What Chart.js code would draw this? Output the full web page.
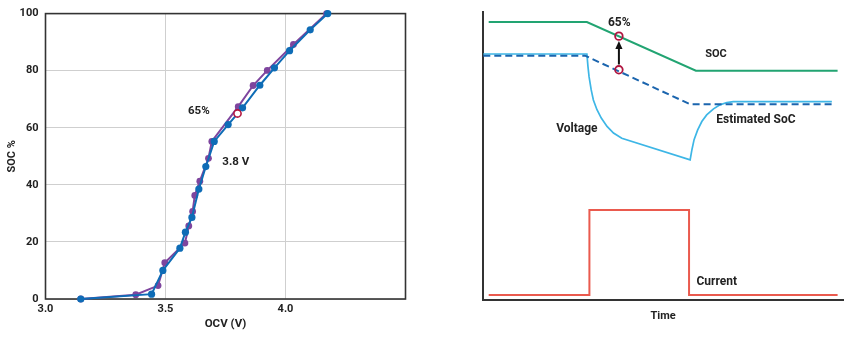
<!DOCTYPE html>
<html>
<head>
<meta charset="utf-8">
<script src="https://cdn.jsdelivr.net/npm/chart.js@4.4.1/dist/chart.umd.min.js"></script>
<style>
  html, body { margin: 0; padding: 0; background: #fff; }
  body { width: 852px; height: 338px; position: relative; overflow: hidden; }
  #ocvWrap { position: absolute; left: 0; top: 0; width: 430px; height: 338px; }
  #timeWrap { position: absolute; left: 430px; top: 0; width: 422px; height: 338px; }
</style>
</head>
<body>
<div id="ocvWrap"><canvas id="ocvChart" width="430" height="338"></canvas></div>
<div id="timeWrap"><canvas id="timeChart" width="422" height="338"></canvas></div>
<script>
// ---- SOC vs OCV curves ----
const ocvTicks = [3.0, 3.5, 4.0];
const socTicks = [0, 20, 40, 60, 80, 100];

const chargeOcv = [3.147, 3.376, 3.469, 3.497, 3.581, 3.597, 3.613, 3.622, 3.643, 3.679, 3.693, 3.803, 3.865, 3.924, 4.033, 4.171];
const chargeSoc = [0, 1.5, 4.7, 12.7, 19.6, 25.6, 30.7, 36.3, 41.3, 49.3, 55.2, 67.4, 74.8, 80.1, 89.2, 100];

const dischargeOcv = [3.147, 3.442, 3.489, 3.56, 3.583, 3.61, 3.639, 3.668, 3.703, 3.761, 3.821, 3.893, 3.954, 4.017, 4.103, 4.176];
const dischargeSoc = [0, 1.7, 10, 17.8, 23.4, 28.6, 38.5, 46.4, 55.2, 61.1, 67, 74.9, 81, 87, 94.3, 100];

const pointOcv = [3.8];
const pointSoc = [65];

// ---- SOC estimation over time (arbitrary units) ----
const socTime = [1.5, 28.8, 59.1, 98.5];
const socLevel = [96.5, 96.5, 79.6, 79.6];

const estTime = [0, 28.3, 57.5, 96.9];
const estLevel = [84.8, 84.8, 67.9, 67.9];

const voltTime = [0, 28.8, 29.1, 29.4, 30.0, 30.6, 31.6, 32.8, 34.4, 36.2, 38.5, 57.5, 58.0, 58.6, 59.6, 60.75, 62.1, 64.0, 65.8, 67.7, 69.5, 96.9];
const voltLevel = [85.4, 85.4, 81.0, 77.5, 72.9, 69.4, 66.0, 63.1, 60.2, 57.9, 56.1, 48.6, 52.1, 55.6, 59.0, 61.9, 64.2, 66.3, 67.7, 68.5, 68.85, 68.85];

const currTime = [1.5, 29.5, 29.5, 57.2, 57.2, 98.5];
const currLevel = [1.6, 1.6, 31.1, 31.1, 1.6, 1.6];

const markTime = [37.7, 37.7];
const markLevel = [91.6, 79.9];

const pairs = (xs, ys) => xs.map((x, i) => ({ x: x, y: ys[i] }));

Chart.defaults.font.family = 'Roboto, "Liberation Sans", sans-serif';
Chart.defaults.font.weight = 'bold';
Chart.defaults.color = '#222';

// Box around the plot area
const framePlugin = {
  id: 'frame',
  beforeDatasetsDraw(chart, args, opts) {
    if (!opts || !opts.color) return;
    const { ctx, chartArea: a } = chart;
    ctx.save();
    ctx.strokeStyle = opts.color;
    ctx.lineWidth = opts.width;
    ctx.strokeRect(a.left, a.top, a.width, a.height);
    ctx.restore();
  }
};

// Free text placed in data coordinates
const notesPlugin = {
  id: 'notes',
  afterDatasetsDraw(chart, args, opts) {
    if (!opts || !opts.items) return;
    const { ctx, scales } = chart;
    ctx.save();
    ctx.fillStyle = opts.color || '#222';
    ctx.textAlign = 'center';
    ctx.textBaseline = 'middle';
    opts.items.forEach(n => {
      ctx.font = 'bold ' + (n.size || 11) + 'px ' + Chart.defaults.font.family;
      ctx.fillText(n.text, scales.x.getPixelForValue(n.x), scales.y.getPixelForValue(n.y));
    });
    ctx.restore();
  }
};

// Arrow between two points of a dataset
const arrowPlugin = {
  id: 'arrow',
  afterDatasetsDraw(chart, args, opts) {
    if (!opts || opts.dataset === undefined) return;
    const pts = chart.getDatasetMeta(opts.dataset).data;
    const from = pts[opts.from], to = pts[opts.to];
    if (!from || !to) return;
    const { ctx } = chart;
    const r = opts.gap;
    const x = to.x;
    const y0 = from.y - r - 1.5;
    const tip = to.y + r + 1;
    const headH = 8, headW = 3.6;
    ctx.save();
    ctx.strokeStyle = opts.color;
    ctx.fillStyle = opts.color;
    ctx.lineWidth = 2;
    ctx.beginPath();
    ctx.moveTo(x, y0);
    ctx.lineTo(x, tip + headH - 1);
    ctx.stroke();
    ctx.beginPath();
    ctx.moveTo(x, tip);
    ctx.lineTo(x - headW, tip + headH);
    ctx.lineTo(x + headW, tip + headH);
    ctx.closePath();
    ctx.fill();
    ctx.restore();
  }
};

new Chart(document.getElementById('ocvChart'), {
  type: 'scatter',
  data: {
    datasets: [
      {
        label: '3.8 V / 65%',
        data: pairs(pointOcv, pointSoc),
        pointRadius: 3.6,
        pointBorderWidth: 1.6,
        borderColor: '#b3163f',
        backgroundColor: '#ffffff',
        clip: false,
        order: 0
      },
      {
        label: 'Discharge',
        data: pairs(dischargeOcv, dischargeSoc),
        showLine: true,
        borderColor: '#0e6cb6',
        backgroundColor: '#0e6cb6',
        borderWidth: 2,
        pointRadius: 3.6,
        pointBorderWidth: 0,
        clip: false,
        order: 1
      },
      {
        label: 'Charge',
        data: pairs(chargeOcv, chargeSoc),
        showLine: true,
        borderColor: '#7e459e',
        backgroundColor: '#7e459e',
        borderWidth: 2,
        pointRadius: 3.4,
        pointBorderWidth: 0,
        clip: false,
        order: 2
      }
    ]
  },
  options: {
    responsive: false,
    animation: false,
    events: [],
    layout: { padding: { top: 11, right: 24.5, left: 0, bottom: 0 } },
    plugins: {
      legend: { display: false },
      tooltip: { enabled: false },
      frame: { color: '#333', width: 1.6 },
      notes: {
        items: [
          { text: '65%', x: 3.639, y: 66.0, size: 11.5 },
          { text: '3.8 V', x: 3.793, y: 47.9, size: 11.5 }
        ]
      }
    },
    scales: {
      x: {
        type: 'linear',
        min: 3.0,
        max: 4.5,
        afterBuildTicks: s => { s.ticks = ocvTicks.map(v => ({ value: v })); },
        afterFit: s => { s.height = 39; },
        ticks: { padding: 4, font: { size: 11, weight: 'bold' }, color: '#222', callback: v => Number(v).toFixed(1) },
        grid: { color: '#cfcfcf', lineWidth: 1, drawTicks: false },
        border: { display: false },
        title: { display: true, text: 'OCV (V)', font: { size: 11.5, weight: 'bold' }, color: '#222', padding: { top: 0, bottom: 7.4 } }
      },
      y: {
        type: 'linear',
        min: 0,
        max: 100,
        afterBuildTicks: s => { s.ticks = socTicks.map(v => ({ value: v })); },
        afterFit: s => { s.width = 45.5; },
        ticks: { padding: 7, font: { size: 11, weight: 'bold' }, color: '#222' },
        grid: { color: '#cfcfcf', lineWidth: 1, drawTicks: false },
        border: { display: false },
        title: { display: true, text: 'SOC %', font: { size: 11, weight: 'bold' }, color: '#222', padding: { top: 5.4, bottom: 0 } }
      }
    }
  },
  plugins: [framePlugin, notesPlugin]
});

new Chart(document.getElementById('timeChart'), {
  type: 'scatter',
  data: {
    datasets: [
      {
        label: 'Markers',
        data: pairs(markTime, markLevel),
        pointRadius: 3.8,
        pointBorderWidth: 1.8,
        borderColor: '#b0143f',
        backgroundColor: 'rgba(0,0,0,0)',
        clip: false,
        order: 0
      },
      {
        label: 'Estimated SoC',
        data: pairs(estTime, estLevel),
        showLine: true,
        borderColor: '#1b65ae',
        borderWidth: 2,
        borderDash: [7, 4],
        pointRadius: 0,
        clip: false,
        order: 1
      },
      {
        label: 'Voltage',
        data: pairs(voltTime, voltLevel),
        showLine: true,
        borderColor: '#3db6e6',
        borderWidth: 1.7,
        pointRadius: 0,
        clip: false,
        order: 2
      },
      {
        label: 'SOC',
        data: pairs(socTime, socLevel),
        showLine: true,
        borderColor: '#22a472',
        borderWidth: 2,
        pointRadius: 0,
        clip: false,
        order: 3
      },
      {
        label: 'Current',
        data: pairs(currTime, currLevel),
        showLine: true,
        borderColor: '#ea5a4e',
        borderWidth: 2,
        pointRadius: 0,
        clip: false,
        order: 4
      }
    ]
  },
  options: {
    responsive: false,
    animation: false,
    events: [],
    layout: { padding: { top: 12, right: 9, left: 0, bottom: 0 } },
    plugins: {
      legend: { display: false },
      tooltip: { enabled: false },
      arrow: { dataset: 0, from: 1, to: 0, gap: 3.8, color: '#111' },
      notes: {
        items: [
          { text: '65%', x: 37.8, y: 96.2, size: 12 },
          { text: 'SOC', x: 64.7, y: 85.4, size: 11 },
          { text: 'Estimated SoC', x: 75.8, y: 62.5, size: 12 },
          { text: 'Voltage', x: 26.0, y: 59.3, size: 12 },
          { text: 'Current', x: 64.9, y: 6.1, size: 12 }
        ]
      }
    },
    scales: {
      x: {
        type: 'linear',
        min: 0,
        max: 100,
        afterFit: s => { s.height = 38.5; },
        ticks: { display: false },
        grid: { display: false, drawTicks: false },
        border: { display: true, color: '#333', width: 2 },
        title: { display: true, text: 'Time', font: { size: 11, weight: 'bold' }, color: '#222', padding: { top: 0, bottom: 14.7 } }
      },
      y: {
        type: 'linear',
        min: 0,
        max: 100,
        afterFit: s => { s.width = 53.3; },
        ticks: { display: false },
        grid: { display: false, drawTicks: false },
        border: { display: true, color: '#333', width: 2 }
      }
    }
  },
  plugins: [notesPlugin, arrowPlugin]
});
</script>
</body>
</html>
